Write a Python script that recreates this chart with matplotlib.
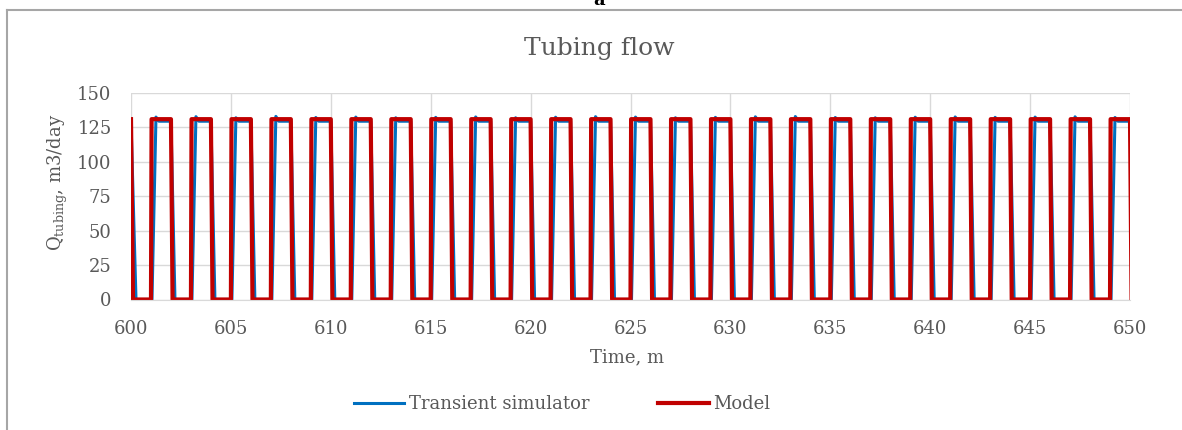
"""
Tubing flow: transient simulator vs. model, 600-650 min window.
Square-wave flow signal rebuilt from the on/off switching times read off the chart.
"""
import matplotlib.pyplot as plt
from matplotlib.lines import Line2D

# ── data (minutes, m3/day) ────────────────────────────────────────────────
# Model: switches on / off (vertical edges)
red_on = [601.0, 603.0, 605.0, 607.0, 609.0, 611.0, 613.0, 615.0, 617.0,
          619.0, 621.0, 623.0, 625.0, 627.0, 629.0, 631.0, 633.0, 635.0,
          637.0, 639.0, 641.0, 643.0, 645.0, 647.0, 649.0]
red_off = [602.0, 604.0, 606.0, 608.0, 610.0, 612.0, 614.0, 616.0, 618.0,
           620.0, 622.0, 624.0, 626.0, 628.0, 630.0, 632.0, 634.0, 636.0,
           638.0, 640.0, 642.0, 644.0, 646.0, 648.0, 650.0]
red_level = 131.0
red_rise, red_fall = 0.03, 0.08

# Transient simulator: rise starts slightly later, decays slower
blue_on = [601.05, 603.05, 605.05, 607.05, 609.05, 611.05, 613.05, 615.05,
           617.05, 619.05, 621.05, 623.05, 625.05, 627.05, 629.05, 631.05,
           633.05, 635.05, 637.05, 639.05, 641.05, 643.05, 645.05, 647.05,
           649.05]
blue_off = [602.0, 604.0, 606.0, 608.0, 610.0, 612.0, 614.0, 616.0, 618.0,
            620.0, 622.0, 624.0, 626.0, 628.0, 630.0, 632.0, 634.0, 636.0,
            638.0, 640.0, 642.0, 644.0, 646.0, 648.0, 650.0]
blue_peak = [132.5, 132.8, 132.0, 133.0, 132.2, 132.5, 132.0, 132.3, 132.6,
             132.0, 132.4, 132.8, 132.5, 132.0, 132.3, 132.7, 132.9, 132.2,
             132.0, 132.4, 132.6, 132.3, 132.5, 132.7, 132.2]
blue_level = 129.5
blue_rise, blue_fall = 0.2, 0.2

x_ticks = [600, 605, 610, 615, 620, 625, 630, 635, 640, 645, 650]
y_ticks = [0, 25, 50, 75, 100, 125, 150]

TXT = "#595959"
BLUE = "#0070C0"
RED = "#C00000"
GRID = "#D9D9D9"

W, H = 1182, 430


def model_curve():
    t, q = [600.0, 600.1], [red_level, 0.0]
    for on, off in zip(red_on, red_off):
        t += [on, on + red_rise, off, off + red_fall]
        q += [0.0, red_level, red_level, 0.0]
    return t, q


def simulator_curve():
    t, q = [600.0, 600.25], [blue_level, 0.0]
    for on, off, pk in zip(blue_on, blue_off, blue_peak):
        t += [on, on + blue_rise, on + blue_rise + 0.15, off, off + blue_fall]
        q += [0.0, pk, blue_level, blue_level, 0.0]
    return t, q


def main() -> None:
    plt.rcParams["font.family"] = "DejaVu Serif"
    plt.rcParams["mathtext.fontset"] = "dejavuserif"

    fig = plt.figure(figsize=(W / 100, H / 100), dpi=100)
    ax = fig.add_axes([131 / W, 1 - 299.5 / H, 999 / W, 206.5 / H])

    bt, bq = simulator_curve()
    rt, rq = model_curve()
    ax.plot(bt, bq, color=BLUE, lw=2.2, solid_joinstyle="round",
            label="Transient simulator")
    ax.plot(rt, rq, color=RED, lw=3.0, solid_joinstyle="round",
            label="Model")

    ax.set_xlim(600, 650)
    ax.set_ylim(0, 150)
    ax.set_xticks(x_ticks)
    ax.set_yticks(y_ticks)
    ax.tick_params(length=0, labelsize=13, labelcolor=TXT)
    ax.tick_params(axis="x", pad=15)
    ax.tick_params(axis="y", pad=14)
    ax.grid(True, color=GRID, lw=1.0)
    ax.set_axisbelow(True)
    for side in ("top", "right", "left"):
        ax.spines[side].set_visible(False)
    ax.spines["bottom"].set_color(GRID)

    # titles
    fig.text(599 / W, 1 - 55.5 / H, "Tubing flow", fontsize=18, color=TXT,
             ha="center", va="baseline")
    fig.text(627 / W, 1 - 357 / H, "Time, m", fontsize=13, color=TXT,
             ha="center", va="center")
    fig.text(58 / W, 1 - 182 / H, r"Q$_{\mathregular{tubing}}$, m3/day",
             fontsize=13, color=TXT, rotation=90, ha="center", va="center")

    # partially cut label above the frame
    fig.text(599 / W, 1 - 5 / H, "a", fontsize=13, fontweight="bold",
             color="black", ha="center", va="baseline")

    fig.legend(loc="center", bbox_to_anchor=(562 / W, 1 - 404 / H), ncol=2,
               frameon=False, fontsize=13, labelcolor=TXT, handlelength=2.8,
               handletextpad=0.25, columnspacing=3.8, borderpad=0,
               borderaxespad=0)

    # chart frame (top and left edges visible)
    frame = dict(color="#A6A6A6", lw=1.5, transform=fig.transFigure)
    fig.add_artist(Line2D([7 / W, 1.0], [1 - 10 / H] * 2, **frame))
    fig.add_artist(Line2D([7 / W] * 2, [0.0, 1 - 10 / H], **frame))

    fig.savefig("out.png", dpi=100)
    plt.close(fig)


if __name__ == "__main__":
    main()
